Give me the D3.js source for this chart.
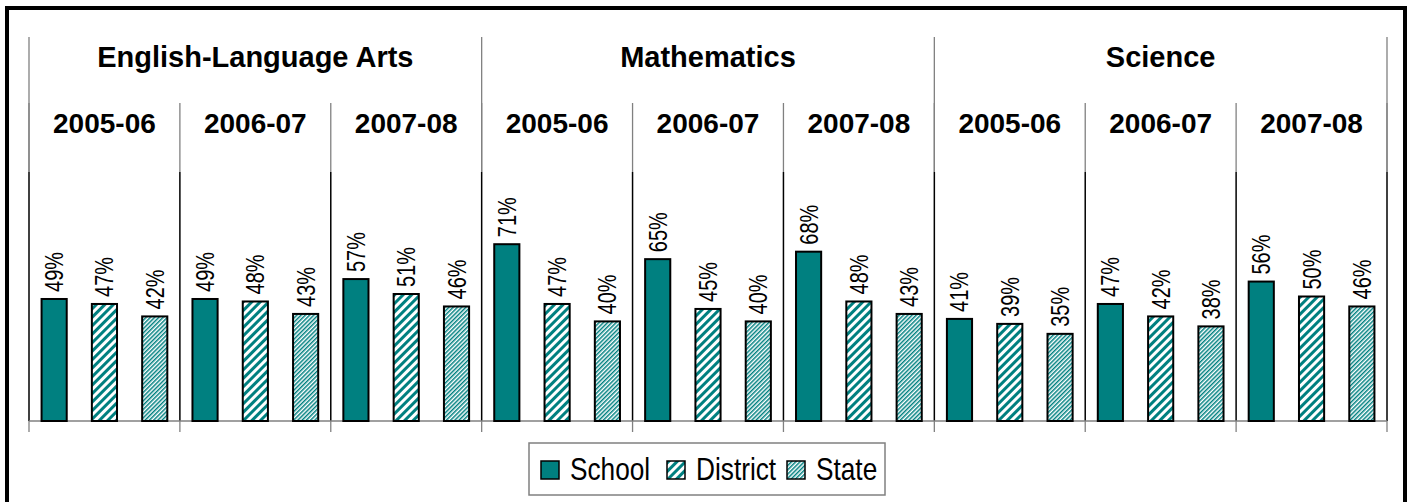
<!DOCTYPE html>
<html>
<head>
<meta charset="utf-8">
<script src="https://cdn.jsdelivr.net/npm/d3@7"></script>
<style>
  html, body { margin: 0; padding: 0; background: #fff; }
  svg { display: block; }
</style>
</head>
<body>
<svg id="chart" width="1412" height="502"></svg>
<script>
const subjects = ['English-Language Arts', 'Mathematics', 'Science'];
const years = ['2005-06', '2006-07', '2007-08'];
const series = ['School', 'District', 'State'];
const schoolValues = [49, 49, 57, 71, 65, 68, 41, 47, 56];
const districtValues = [47, 48, 51, 47, 45, 48, 39, 42, 50];
const stateValues = [42, 43, 46, 40, 40, 43, 35, 38, 46];

const svg = d3.select('#chart');
const teal = '#008080';
const narrow = '"Liberation Sans", Arial, sans-serif'; // squeezed with scale() below
const bold = '"Liberation Sans", Arial, sans-serif';

// one group per subject/year pair
const groups = [];
subjects.forEach(s => years.forEach(y => groups.push(s + '|' + y)));
const valuesBySeries = { School: schoolValues, District: districtValues, State: stateValues };

const plotLeft = 29, plotRight = 1387, plotTop = 172, base = 421;

const x0 = d3.scaleBand().domain(groups).range([plotLeft, plotRight]).padding(0);
const x1 = d3.scaleBand().domain(series).range([0, x0.bandwidth()])
  .paddingInner(0.5).paddingOuter(0.25);
const xs = d3.scaleBand().domain(subjects).range([plotLeft, plotRight]).padding(0);
const y = d3.scaleLinear().domain([0, 100]).range([base, plotTop]);

// patterns
const defs = svg.append('defs');
const wide = defs.append('pattern')
  .attr('id', 'district').attr('patternUnits', 'userSpaceOnUse')
  .attr('width', 6).attr('height', 6).attr('patternTransform', 'rotate(45)');
wide.append('rect').attr('width', 6).attr('height', 6).attr('fill', '#fff');
wide.append('rect').attr('width', 3).attr('height', 6).attr('fill', teal);

const fine = defs.append('pattern')
  .attr('id', 'state').attr('patternUnits', 'userSpaceOnUse')
  .attr('width', 3).attr('height', 3).attr('patternTransform', 'rotate(45)');
fine.append('rect').attr('width', 3).attr('height', 3).attr('fill', '#fff');
fine.append('rect').attr('width', 1.5).attr('height', 3).attr('fill', teal);

const fills = { School: teal, District: 'url(#district)', State: 'url(#state)' };

// outer frame
svg.append('rect')
  .attr('x', 7).attr('y', 8).attr('width', 1398).attr('height', 520)
  .attr('fill', 'none').attr('stroke', '#000').attr('stroke-width', 4);

// header separators (grey) for subjects and years
const subjBounds = subjects.map(s => xs(s)).concat([plotRight]);
svg.selectAll('.subj-line').data(subjBounds).enter().append('line')
  .attr('x1', d => d).attr('x2', d => d)
  .attr('y1', 37).attr('y2', plotTop)
  .attr('stroke', '#808080').attr('stroke-width', 1.3);

const groupBounds = groups.map(g => x0(g)).concat([plotRight]);
svg.selectAll('.year-line').data(groupBounds).enter().append('line')
  .attr('x1', d => d).attr('x2', d => d)
  .attr('y1', 103).attr('y2', plotTop)
  .attr('stroke', '#808080').attr('stroke-width', 1.3);

// plot area separators (black)
svg.selectAll('.plot-line').data(groupBounds).enter().append('line')
  .attr('x1', d => d).attr('x2', d => d)
  .attr('y1', plotTop).attr('y2', base)
  .attr('stroke', '#000').attr('stroke-width', 1.5);

// baseline and ticks
svg.append('line')
  .attr('x1', plotLeft).attr('x2', plotRight).attr('y1', base).attr('y2', base)
  .attr('stroke', '#808080').attr('stroke-width', 1.3);
svg.selectAll('.tick-line').data(groupBounds).enter().append('line')
  .attr('x1', d => d).attr('x2', d => d)
  .attr('y1', base).attr('y2', base + 11)
  .attr('stroke', '#808080').attr('stroke-width', 1.3);

// subject titles
svg.selectAll('.subject').data(subjects).enter().append('text')
  .attr('x', d => xs(d) + xs.bandwidth() / 2)
  .attr('y', 67)
  .attr('text-anchor', 'middle')
  .style('font-family', bold).style('font-weight', 'bold').style('font-size', '29px')
  .text(d => d);

// year titles
svg.selectAll('.year').data(groups).enter().append('text')
  .attr('x', d => x0(d) + x0.bandwidth() / 2)
  .attr('y', 133)
  .attr('text-anchor', 'middle')
  .style('font-family', bold).style('font-weight', 'bold').style('font-size', '28px')
  .text(d => d.split('|')[1]);

// bars
const barData = [];
groups.forEach((g, i) => series.forEach(s => barData.push({ g, s, v: valuesBySeries[s][i] })));

svg.selectAll('.bar').data(barData).enter().append('rect')
  .attr('x', d => x0(d.g) + x1(d.s))
  .attr('y', d => y(d.v))
  .attr('width', x1.bandwidth())
  .attr('height', d => base - y(d.v))
  .attr('fill', d => fills[d.s])
  .attr('stroke', '#000').attr('stroke-width', 2);

// value labels (rotated, condensed)
svg.selectAll('.label').data(barData).enter().append('text')
  .attr('transform', d => `translate(${x0(d.g) + x1(d.s) + x1.bandwidth() / 2},${y(d.v) - 7}) rotate(-90) scale(0.8,1)`)
  .attr('dy', '0.36em')
  .style('font-family', narrow).style('font-size', '25px')
  .text(d => d.v + '%');

// legend
const legend = svg.append('g');
legend.append('rect')
  .attr('x', 529).attr('y', 443).attr('width', 356).attr('height', 52)
  .attr('fill', '#fff').attr('stroke', '#808080').attr('stroke-width', 1.5);

const legendX = { School: 541, District: 667, State: 787 };
const items = legend.selectAll('.item').data(series).enter().append('g')
  .attr('transform', d => `translate(${legendX[d]},461)`);
items.append('rect')
  .attr('width', 18).attr('height', 18)
  .attr('fill', d => fills[d])
  .attr('stroke', '#000').attr('stroke-width', 1.5);
items.append('text')
  .attr('transform', 'translate(29,19) scale(0.82,1)')
  .style('font-family', narrow).style('font-size', '32px')
  .text(d => d);
</script>
</body>
</html>
